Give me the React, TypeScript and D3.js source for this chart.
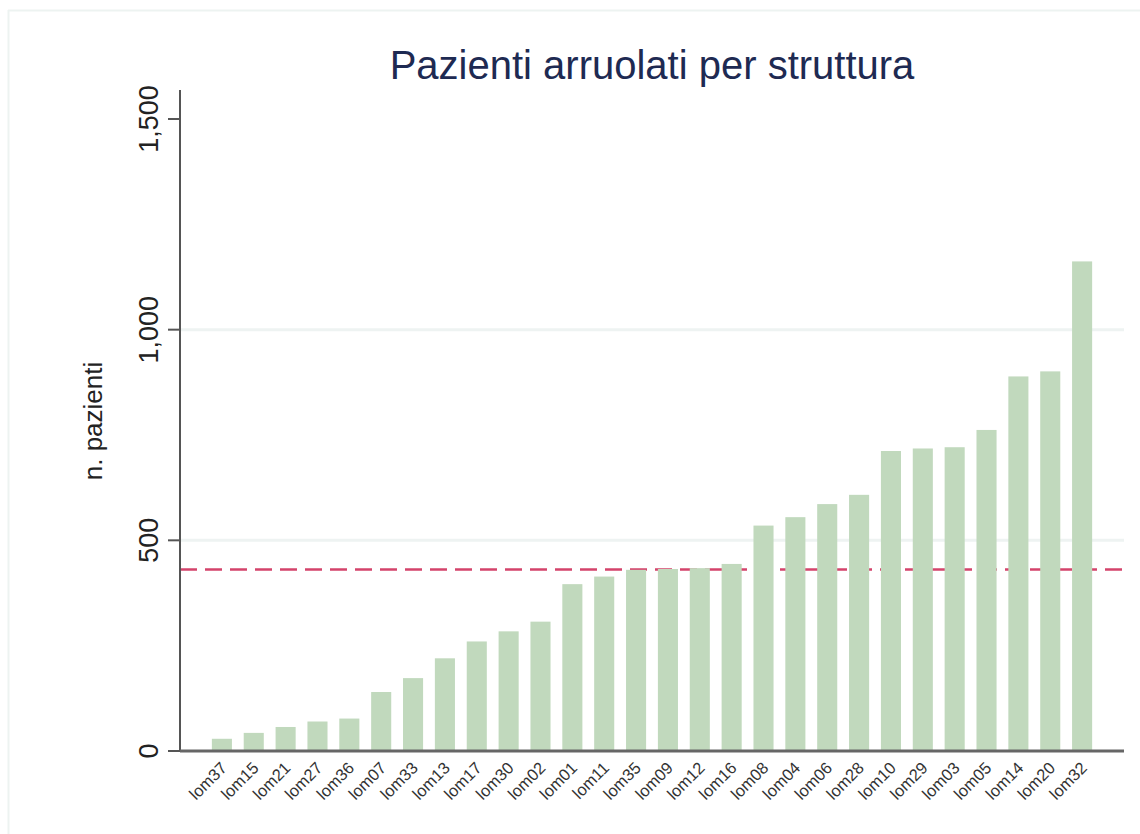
import React from "react";
import * as d3 from "d3";

const categories = ["lom37","lom15","lom21","lom27","lom36","lom07","lom33","lom13","lom17","lom30","lom02","lom01","lom11","lom35","lom09","lom12","lom16","lom08","lom04","lom06","lom28","lom10","lom29","lom03","lom05","lom14","lom20","lom32"];
const values = [29,43,57,70,77,140,173,220,260,284,307,396,414,430,432,434,444,535,555,586,608,712,718,721,762,889,901,1162];
const meanValue = 431;
const yTicks = [0,500,1000,1500];
const gridTicks = [500,1000];

const W = 1140, H = 834;
const x0 = 180, x1 = 1124;
const yBase = 751, yTop = 119;

export default function App() {
  const x = d3.scaleBand<string>().domain(categories).range([x0, x1]).paddingInner(0.37).paddingOuter(1.0);
  const y = d3.scaleLinear().domain([0, 1500]).range([yBase, yTop]);
  const fmt = d3.format(",");
  const font = "'Liberation Sans', Arial, sans-serif";
  return (
    <svg width={W} height={H} style={{ position: "absolute", left: 0, top: 0, background: "#fff" }} fontFamily={font}>
      <rect x={0} y={0} width={W} height={H} fill="#fff" />
      <line x1={8} x2={W} y1={10.5} y2={10.5} stroke="#edf3f1" strokeWidth={2} />
      <line x1={8.5} x2={8.5} y1={10} y2={H} stroke="#edf3f1" strokeWidth={2} />
      <text x={652} y={79} textAnchor="middle" fontSize={40} fill="#1e2a52">Pazienti arruolati per struttura</text>
      {gridTicks.map(t => (
        <line key={"g"+t} x1={x0} x2={x1} y1={y(t)} y2={y(t)} stroke="#eef3f2" strokeWidth={3} />
      ))}
      <line x1={x0} x2={x1} y1={y(meanValue)} y2={y(meanValue)} stroke="#d4436b" strokeWidth={2.5} strokeDasharray="17 8" />
      {categories.map((c, i) => (
        <rect key={c} x={x(c)} width={x.bandwidth()} y={y(values[i])} height={yBase - y(values[i])} fill="#c1d9bd" />
      ))}
      <line x1={x0} x2={x0} y1={90} y2={yBase} stroke="#555" strokeWidth={2} />
      <line x1={x0} x2={x1} y1={yBase} y2={yBase} stroke="#666" strokeWidth={3} />
      {yTicks.map(t => (
        <g key={"t"+t}>
          <line x1={168} x2={x0} y1={y(t)} y2={y(t)} stroke="#555" strokeWidth={2} />
          <text transform={`translate(${158},${y(t)}) rotate(-90)`} textAnchor="middle" fontSize={27} fill="#222">{fmt(t)}</text>
        </g>
      ))}
      <text transform={`translate(${102},${421}) rotate(-90)`} textAnchor="middle" fontSize={26} fill="#222">n. pazienti</text>
      {categories.map(c => {
        const cx = (x(c) as number) + x.bandwidth() / 2;
        return (
          <text key={"l"+c} transform={`translate(${cx + 6},${769}) rotate(-45)`} textAnchor="end" fontSize={16.5} fill="#333">{c}</text>
        );
      })}
    </svg>
  );
}
